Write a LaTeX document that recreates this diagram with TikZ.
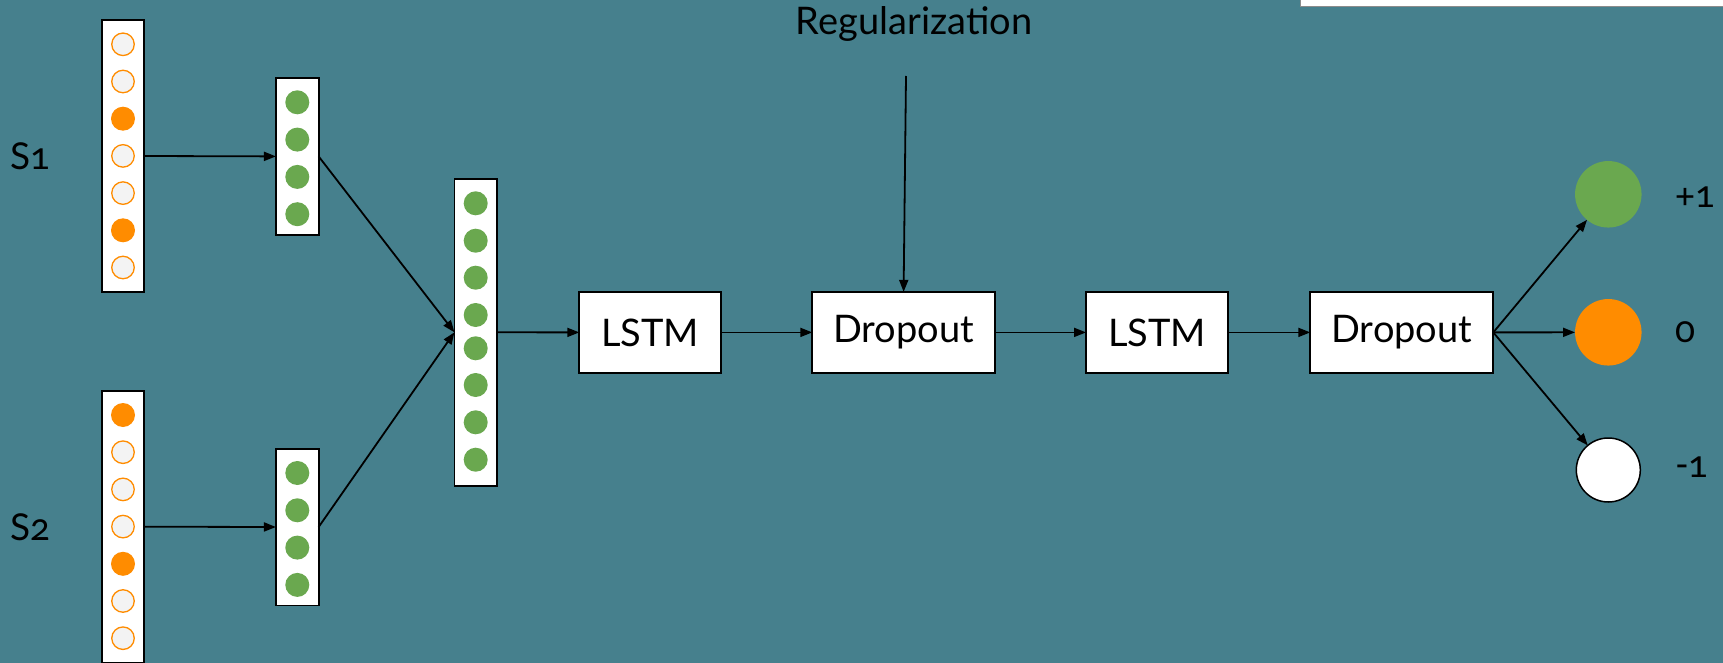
\documentclass[tikz,border=0pt]{standalone}
\usepackage{fontspec}
\setmainfont{Lato}[Numbers=OldStyle]
\usetikzlibrary{arrows.meta}
\definecolor{bgteal}{RGB}{70,128,141}
\definecolor{dotgreen}{RGB}{106,168,79}
\definecolor{dotorange}{RGB}{255,140,0}
\definecolor{dotempty}{RGB}{243,243,243}

\begin{document}
\begin{tikzpicture}[x=1pt,y=-1pt,
  vec/.style={draw=black, line width=1.7pt, fill=white, minimum width=42pt,
    inner sep=0pt, outer sep=0pt},
  layer/.style={draw=black, line width=1.7pt, fill=white, inner sep=0pt,
    outer sep=0pt, minimum height=81pt, font=\fontsize{38}{44}\selectfont},
  hot/.style={circle, fill=dotorange, minimum size=24pt, inner sep=0pt},
  cold/.style={circle, draw=dotorange, line width=1.3pt, fill=dotempty,
    minimum size=22.5pt, inner sep=0pt},
  emb/.style={circle, fill=dotgreen, minimum size=24pt, inner sep=0pt},
  outdot/.style={circle, minimum size=66.5pt, inner sep=0pt, outer sep=0pt},
  link/.style={line width=1.8pt, -{Triangle[length=12pt,width=9pt]}},
  lbl/.style={font=\fontsize{37}{43}\selectfont, inner sep=0pt}
]
% canvas
\fill[bgteal] (0,0) rectangle (1723,663);
\useasboundingbox (0,0) rectangle (1723,663);

% panel edge at the top right
\fill[white] (1300,0) rectangle (1723,6);
\draw[black!45, line width=0.8pt] (1300,0) -- (1300,6.4) -- (1723,6.4);

% input labels
\node[lbl, anchor=west] (s1lab) at (10,156) {S1};
\node[lbl, anchor=west] (s2lab) at (10,527) {S2};

% one-hot input vectors
\node[vec, minimum height=272pt] (in1) at (123,156) {};
\node[vec, minimum height=272pt] (in2) at (123,526.7) {};
\foreach \k/\s in {0/cold,1/cold,2/hot,3/cold,4/cold,5/hot,6/cold}
  \node[\s] (in1c\k) at (123,44.3+37.2*\k) {};
\foreach \k/\s in {0/hot,1/cold,2/cold,3/cold,4/hot,5/cold,6/cold}
  \node[\s] (in2c\k) at (123,415+37.2*\k) {};

% embedding vectors
\node[vec, minimum width=42.7pt, minimum height=156.7pt] (em1) at (297.3,156.4) {};
\node[vec, minimum width=42.7pt, minimum height=156.7pt] (em2) at (297.3,527) {};
\foreach \k in {0,...,3} {
  \node[emb] (em1c\k) at (297.3,102.3+37.3*\k) {};
  \node[emb] (em2c\k) at (297.3,473+37.3*\k) {};
}

% concatenated vector
\node[vec, minimum width=42.5pt, minimum height=306.7pt] (cat) at (475.7,332.3) {};
\foreach \y [count=\k] in {203.3,240.7,277.7,315,348.3,385,422.3,459.7}
  \node[emb] (catc\k) at (475.7,\y) {};

% layers
\node[layer, minimum width=141.6pt] (lstmA) at (650.1,332.4) {LSTM};
\node[layer, minimum width=182.6pt] (dropA) at (903.6,332.4) {Dropout};
\node[layer, minimum width=142pt]   (lstmB) at (1157,332.4) {LSTM};
\node[layer, minimum width=183pt]   (dropB) at (1401.8,332.4) {Dropout};

% regularization input
\node[lbl, anchor=base, font=\fontsize{38}{44}\selectfont] (reg) at (914,35) {Regularization};
\coordinate (regin) at (906,76);

% output classes
\node[outdot, fill=dotgreen] (pos) at (1608.3,194.3) {};
\node[outdot, fill=dotorange] (neu) at (1608.3,332.3) {};
\node[outdot, fill=white, draw=black, line width=1.5pt, minimum size=64pt] (neg) at (1608.3,470) {};
\node[lbl, anchor=west] (poslab) at (1675,197) {+1};
\node[lbl, anchor=west] (neulab) at (1675,332) {0};
\node[lbl, anchor=west] (neglab) at (1675,467) {-1};

% connectors
\draw[link] (in1.east) -- (em1.west);
\draw[link] (in2.east) -- (em2.west);
\draw[link] (em1.east) -- (cat.west);
\draw[link] (em2.east) -- (cat.west);
\draw[link] (cat.east) -- (lstmA.west);
\draw[link] (lstmA.east) -- (dropA.west);
\draw[link] (regin) -- (dropA.north);
\draw[link] (dropA.east) -- (lstmB.west);
\draw[link] (lstmB.east) -- (dropB.west);
\draw[link] (dropB.east) -- (pos);
\draw[link] (dropB.east) -- (neu);
\draw[link] (dropB.east) -- (neg);
\end{tikzpicture}
\end{document}
